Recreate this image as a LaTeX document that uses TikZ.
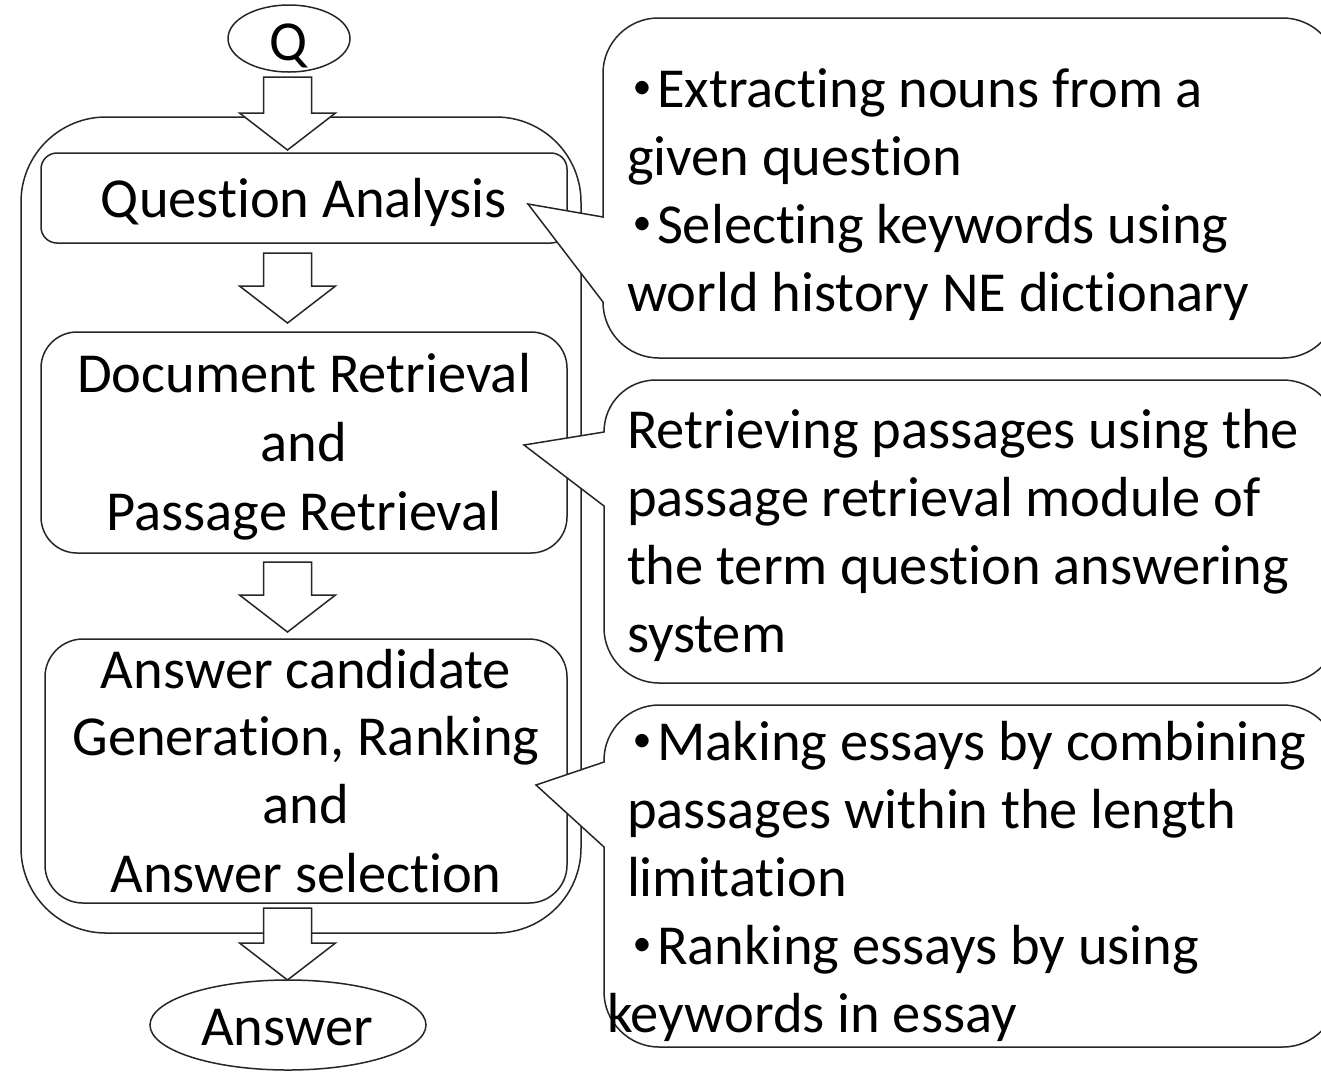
\documentclass[tikz,border=0pt]{standalone}
\usepackage{fontspec}
\setmainfont{Carlito}[RawFeature={-liga;-clig}]
\newfontfamily\cjkfont{Noto Sans CJK JP}
\usetikzlibrary{shapes.geometric,calc}

% block arrow between two nodes: #1 source, #2 target, #3 gap below source, #4 gap above target
\newcommand\flowarrow[4]{%
  \path[blockarrow] let \p1=($(#1.south)+(0,#3)$), \p2=($(#2.north)+(0,-#4)$) in
    (263.5pt,\y1) -- (311.5pt,\y1) -- (311.5pt,\y2+37pt) -- (335.5pt,\y2+37pt)
    -- (287.5pt,\y2) -- (239.5pt,\y2+37pt) -- (263.5pt,\y2+37pt) -- cycle;}

% list bullet (katakana middle dot)
\newcommand\kdot{\makebox[30pt]{\raisebox{-11pt}{\cjkfont\fontsize{80}{80}\selectfont ･}}}

\begin{document}
\begin{tikzpicture}[x=1pt,y=-1pt,
  every node/.style={inner sep=0pt, outer sep=0pt},
  line/.style={draw=black!85, line width=1.5pt},
  lbl/.style={anchor=base, font=\fontsize{56.5}{68}\selectfont},
  lbll/.style={anchor=base west, font=\fontsize{56.5}{68}\selectfont},
  stage/.style={line, rectangle, fill=white},
  oval/.style={line, ellipse, fill=white},
  blockarrow/.style={line, fill=white, line join=miter},
  callout/.style={line, fill=white, line join=miter},
]
\clip (0,0) rectangle (1321,1072);
\fill[white] (0,0) rectangle (1321,1072);

% system frame and processing stages
\node[stage, rounded corners=85pt, minimum width=560pt, minimum height=816pt] (sys) at (301,525) {};
\node[stage, rounded corners=16pt, minimum width=526pt, minimum height=90pt] (qa) at (304,198) {};
\node[stage, rounded corners=36pt, minimum width=526pt, minimum height=221pt] (dr) at (304,442.5) {};
\node[stage, rounded corners=38pt, minimum width=522pt, minimum height=264pt] (ac) at (306,771) {};

% input and output
\node[oval, minimum width=122pt, minimum height=67pt] (q) at (289,38.5) {};
\node[oval, minimum width=276pt, minimum height=90pt] (ans) at (288,1025) {};

% flow arrows
\flowarrow{q}{qa}{5}{3}
\flowarrow{qa}{dr}{10}{9}
\flowarrow{dr}{ac}{9}{7}
\flowarrow{ac}{ans}{5}{0}

% stage labels
\node[lbl] (qtxt) at (289,60) {Q};
\node[lbl] (anstxt) at (287,1045) {Answer};
\node[lbl] (qa1) at (304,217) {Question Analysis};
\node[lbl] (dr1) at (304,392) {Document Retrieval};
\node[lbl] (dr2) at (304,461) {and};
\node[lbl] (dr3) at (304,530) {Passage Retrieval};
\node[lbl] (ac1) at (306,688) {Answer candidate};
\node[lbl] (ac2) at (306,755) {Generation, Ranking};
\node[lbl] (ac3) at (306,823) {and};
\node[lbl] (ac4) at (306,892) {Answer selection};

% callout for question analysis
\path[callout] (603,217) -- (528,204) -- (603,302)
  .. controls (603,333) and (628,358) .. (659,358) -- (1283,358)
  .. controls (1313,358) and (1338,333) .. (1338,303) -- (1338,73)
  .. controls (1338,43) and (1313,18) .. (1283,18) -- (658,18)
  .. controls (628,18) and (603,43) .. (603,73) -- cycle;
\node[lbll] (c11) at (627,107) {\kdot Extracting nouns from a};
\node[lbll] (c12) at (627,175) {given question};
\node[lbll] (c13) at (627,243) {\kdot Selecting keywords using};
\node[lbll] (c14) at (627,311) {world history NE dictionary};

% callout for retrieval
\path[callout] (604,432) -- (524,445) -- (604,506) -- (604,628)
  .. controls (604,658) and (629,683) .. (659,683) -- (1283,683)
  .. controls (1313,683) and (1338,658) .. (1338,628) -- (1338,435)
  .. controls (1338,405) and (1313,380) .. (1283,380) -- (656,380)
  .. controls (627,380) and (604,403) .. (604,432) -- cycle;
\node[lbll] (c21) at (627,448) {Retrieving passages using the};
\node[lbll] (c22) at (627,516) {passage retrieval module of};
\node[lbll] (c23) at (627,584) {the term question answering};
\node[lbll] (c24) at (627,652) {system};

% callout for answer generation
\path[callout] (604,762) -- (536,785) -- (604,847) -- (604,992)
  .. controls (604,1022) and (629,1047) .. (659,1047) -- (1283,1047)
  .. controls (1313,1047) and (1338,1022) .. (1338,992) -- (1338,760)
  .. controls (1338,730) and (1313,705) .. (1283,705) -- (659,705)
  .. controls (629,705) and (604,730) .. (604,760) -- cycle;
\node[lbll] (c31) at (627,760) {\kdot Making essays by combining};
\node[lbll] (c32) at (627,828) {passages within the length};
\node[lbll] (c33) at (627,896) {limitation};
\node[lbll] (c34) at (627,964) {\kdot Ranking essays by using};
\node[lbll] (c35) at (607,1032) {keywords in essay};
\end{tikzpicture}
\end{document}
